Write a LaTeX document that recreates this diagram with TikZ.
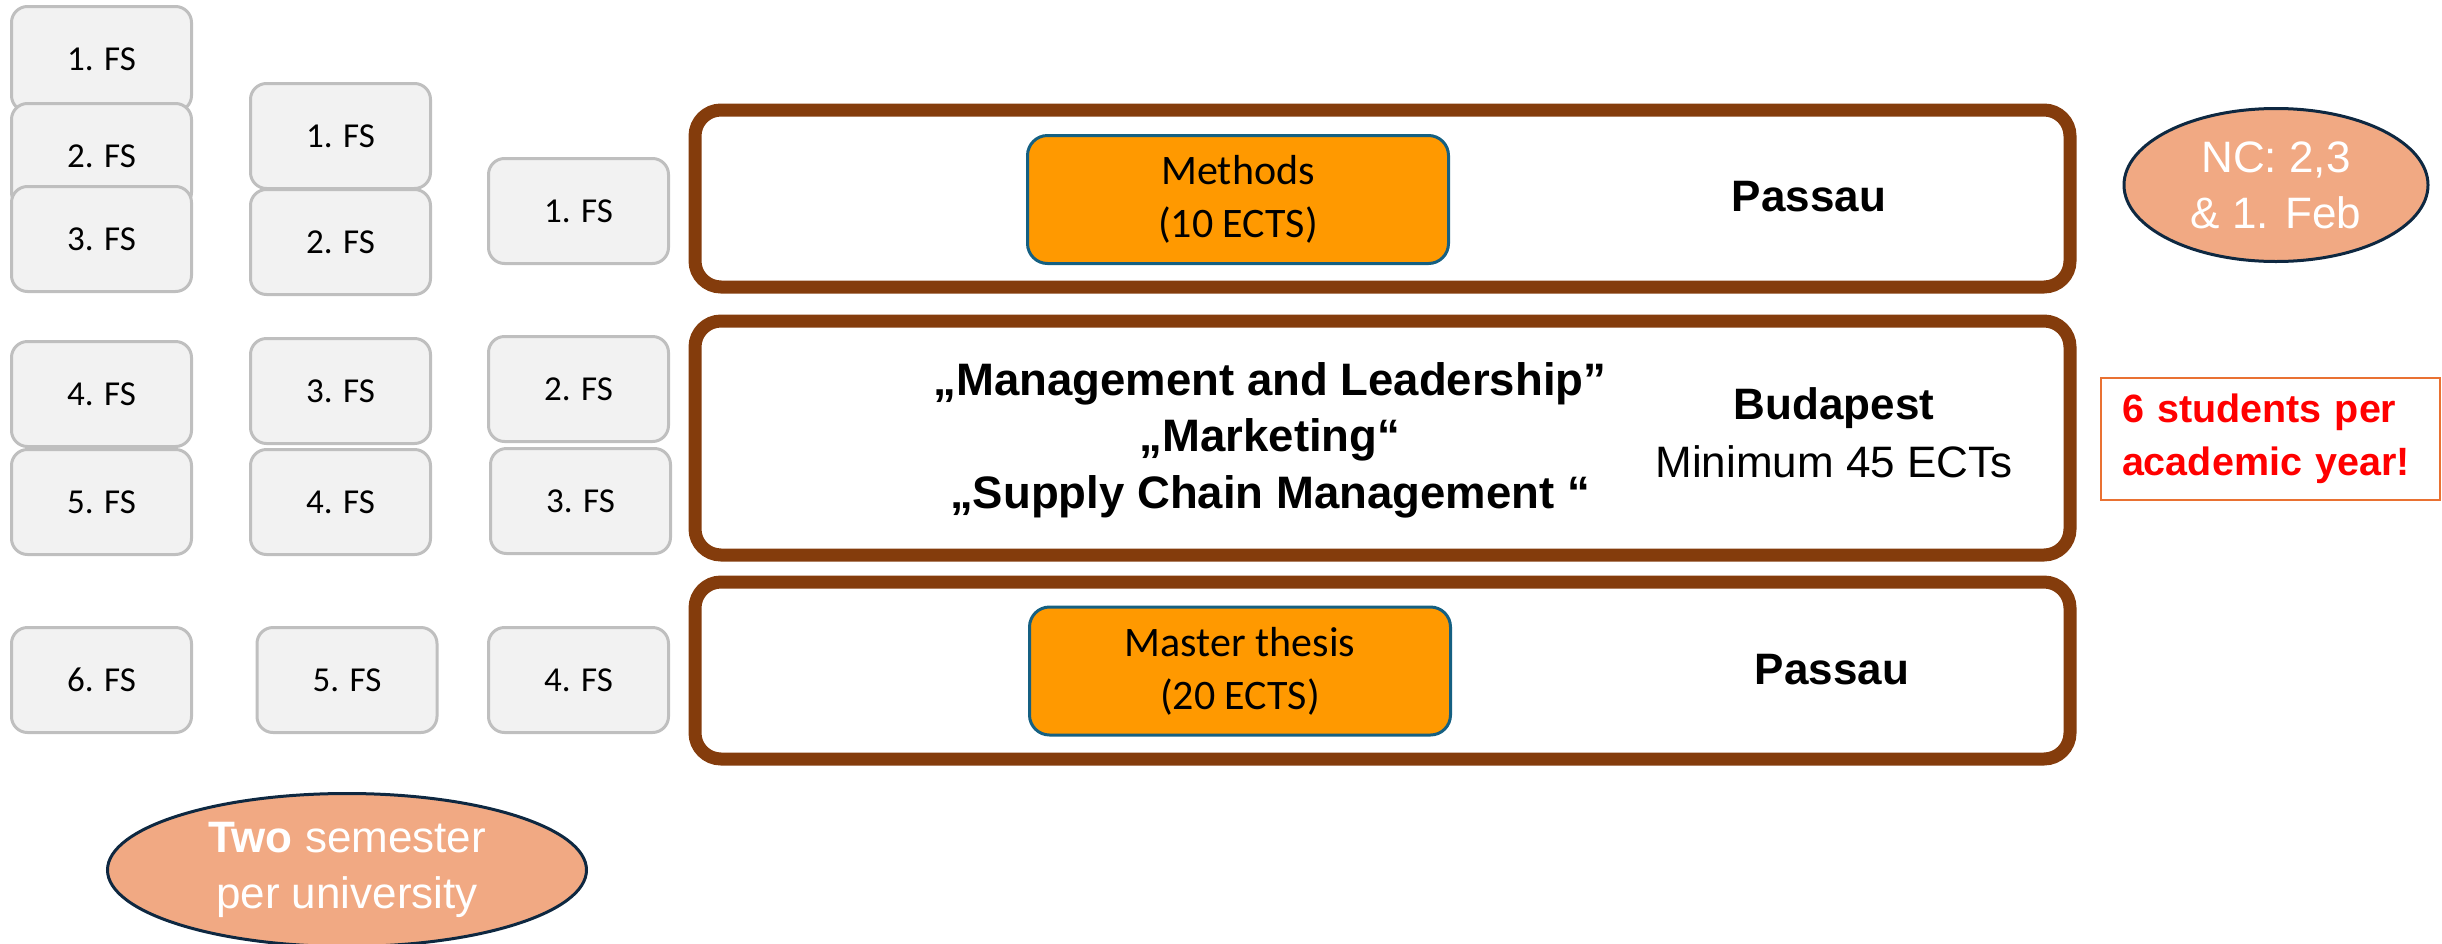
\documentclass[tikz,border=0pt]{standalone}
\usepackage{fontspec}
\setmainfont{Carlito}
\newfontfamily\headfont{Liberation Sans}
\usetikzlibrary{positioning,shapes.geometric}

\definecolor{termbrown}{HTML}{843C0C}
\definecolor{courseorange}{HTML}{FF9900}
\definecolor{courseblue}{HTML}{156082}
\definecolor{notefill}{HTML}{F1A983}
\definecolor{notenavy}{HTML}{0E2841}
\definecolor{warnorange}{HTML}{E97132}

\begin{document}
\begin{tikzpicture}[x=1pt, y=-1pt,
  fs/.style = {draw=black!25, fill=black!5, line width=3pt, rounded corners=16pt, minimum width=180pt, minimum height=105pt, font=\fontsize{35}{42}\selectfont},
  term/.style = {draw=termbrown, line width=13pt, rounded corners=26pt, minimum width=1375pt},
  course/.style = {draw=courseblue, fill=courseorange, line width=3pt, rounded corners=20pt, minimum width=421pt, minimum height=128pt, align=center, font=\fontsize{42}{53}\selectfont},
  place/.style = {align=center, font=\headfont\fontsize{44}{58}\selectfont},
  note/.style = {ellipse, draw=notenavy, fill=notefill, line width=3pt, inner sep=0pt, text=white, align=center, font=\headfont\fontsize{44}{56}\selectfont}]
\useasboundingbox (0,0) rectangle (2442,943);

% semesters, one column per start
\node[fs] (a1) at (101.5,59) {1. FS};
\node[fs] (a2) at (101.5,156) {2. FS};
\node[fs] (a3) at (101.5,239) {3. FS};
\node[fs] (a4) at (101.5,394) {4. FS};
\node[fs] (a5) at (101.5,502) {5. FS};
\node[fs] (a6) at (101.5,680) {6. FS};

\node[fs] (b1) at (340.5,136) {1. FS};
\node[fs] (b2) at (340.5,242) {2. FS};
\node[fs] (b3) at (340.5,391) {3. FS};
\node[fs] (b4) at (340.5,502) {4. FS};
\node[fs] (b5) at (347,680) {5. FS};

\node[fs] (c1) at (578.5,211) {1. FS};
\node[fs] (c2) at (578.5,389) {2. FS};
\node[fs] (c3) at (580.5,501) {3. FS};
\node[fs] (c4) at (578.5,680) {4. FS};

% study phases
\node[term, minimum height=177pt] (t1) at (1382.5,198.5) {};
\node[term, minimum height=234pt] (t2) at (1382.5,438) {};
\node[term, minimum height=177pt] (t3) at (1382.5,670.5) {};

\node[course] (methods) at (1238,199.5) {Methods\\(10 ECTS)};
\node[place, font=\headfont\bfseries\fontsize{44}{58}\selectfont] (p1) at (1809,197) {Passau};

\node[place, font=\headfont\bfseries\fontsize{45.5}{56.5}\selectfont] (subjects) at (1270,440)
  {„Management and Leadership”\\„Marketing“\\„Supply Chain Management “};
\node[place] (budapest) at (1834,433) {\textbf{Budapest}\\Minimum 45 ECTs};

\node[course] (thesis) at (1240,671) {Master thesis\\(20 ECTS)};
\node[place, font=\headfont\bfseries\fontsize{44}{58}\selectfont] (p3) at (1832,670) {Passau};

% side notes
\node[note, minimum width=304pt, minimum height=153pt] (nc) at (2276,185) {NC: 2,3\\\& 1. Feb};
\node[draw=warnorange, line width=1.5pt, minimum height=122pt, text width=297pt, inner xsep=21pt, align=left,
  text=red, font=\headfont\bfseries\fontsize{39.5}{53}\selectfont] (quota) at (2270.5,439)
  {6 students per\\academic year!};
\node[note, minimum width=479pt, minimum height=153pt] (two) at (347,870) {\textbf{Two} semester\\per university};
\end{tikzpicture}
\end{document}
